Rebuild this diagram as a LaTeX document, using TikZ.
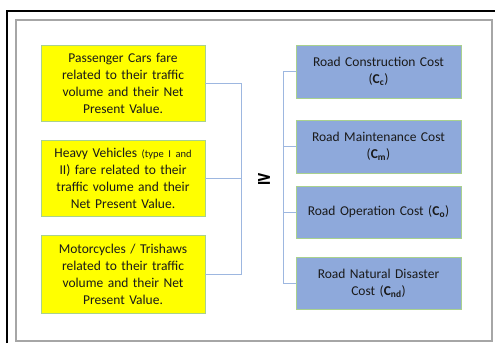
\documentclass[tikz,border=0pt]{standalone}
\usepackage{fontspec}
\setmainfont{Carlito}
\newfontfamily\symfont{DejaVu Sans}
\definecolor{ybox}{HTML}{FFFF00}
\definecolor{bbox}{HTML}{8EA9DB}
\definecolor{gedge}{HTML}{A9D18E}
\definecolor{conn}{HTML}{9DB7E0}
\definecolor{txt}{HTML}{1A1A1A}
\tikzset{
  yelbox/.style={draw=gedge, line width=0.8pt, fill=ybox, minimum width=164pt, align=center, text width=160pt, inner sep=0pt, font=\fontsize{13.5}{17}\selectfont, text=txt},
  bluebox/.style={draw=gedge, line width=0.8pt, fill=bbox, minimum width=165pt, align=center, text width=161pt, inner sep=0pt, font=\fontsize{13.5}{17}\selectfont, text=txt},
  connline/.style={draw=conn, line width=0.8pt}
}
\begin{document}
\begin{tikzpicture}[x=1pt,y=-1pt]
\useasboundingbox (0,0) rectangle (495,343);
\fill[white] (0,0) rectangle (495,343);
% outer black frame
\coordinate (fa) at (7,343);
\coordinate (fb) at (7,11);
\coordinate (fc) at (495,11);
\draw[black, line width=1.2pt] (fa) -- (fb) -- (fc);
% inner gray frame
\coordinate (ga) at (16,20);
\coordinate (gb) at (492,341);
\draw[gray!70, line width=1.6pt] (ga) rectangle (gb);
% yellow boxes
\node[yelbox, minimum height=76pt] (y1) at (123,83) {Passenger Cars fare\\related to their traffic\\volume and their Net\\Present Value.};
\node[yelbox, minimum height=76pt] (y2) at (123,178) {Heavy Vehicles {\fontsize{10.5}{17}\selectfont(type I and}\\II) fare related to their\\traffic volume and their\\Net Present Value.};
\node[yelbox, minimum height=78pt] (y3) at (123,274) {Motorcycles / Trishaws\\related to their traffic\\volume and their Net\\Present Value.};
% blue boxes
\node[bluebox, minimum height=53pt] (b1) at (378.5,71.5) {Road Construction Cost\\(\textbf{C}\textsubscript{\textbf{c}})};
\node[bluebox, minimum height=53pt] (b2) at (378.5,146.5) {Road Maintenance Cost\\(\textbf{C}\textsubscript{\textbf{m}})};
\node[bluebox, minimum height=52pt] (b3) at (378.5,212) {Road Operation Cost (\textbf{C}\textsubscript{\textbf{o}})};
\node[bluebox, minimum height=52pt] (b4) at (378.5,283) {Road Natural Disaster\\Cost (\textbf{C}\textsubscript{\textbf{nd}})};
% geq
\node[font=\symfont\bfseries\fontsize{19}{19}\selectfont, inner sep=0pt] (ge) at (264,179) {≥};
% connectors
\coordinate (lbus) at (241,0);
\coordinate (rbus) at (283,0);
\draw[connline] (y1.east) -- (y1.east -| lbus) -- (y3.east -| lbus) -- (y3.east);
\draw[connline] (y2.east) -- (y2.east -| lbus);
\draw[connline] (b1.west) -- (b1.west -| rbus) -- (b4.west -| rbus) -- (b4.west);
\draw[connline] (b2.west) -- (b2.west -| rbus);
\draw[connline] (b3.west) -- (b3.west -| rbus);
\end{tikzpicture}
\end{document}
